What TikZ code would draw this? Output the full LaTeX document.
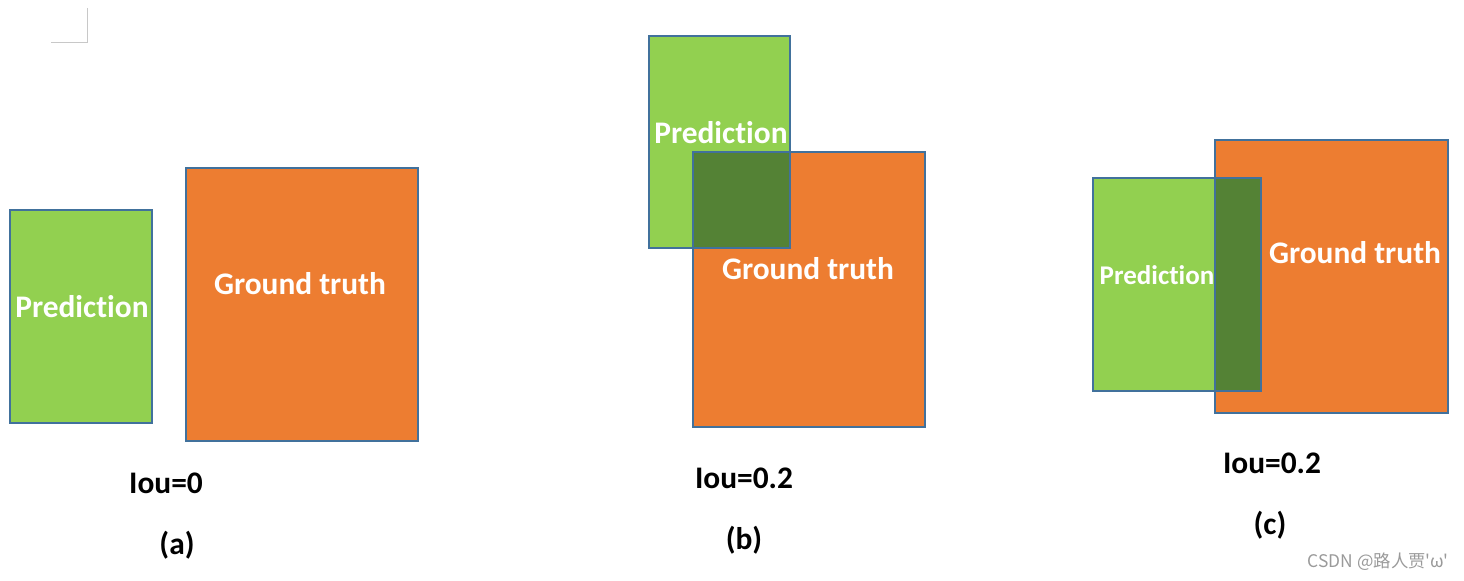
\documentclass[tikz,border=0pt]{standalone}
\usepackage{fontspec}
\setmainfont{Carlito}[Ligatures={TeX,NoCommon}]
\newfontfamily\cjk{Noto Sans CJK SC}
\usetikzlibrary{positioning}
\definecolor{boxblue}{HTML}{41719C}
\definecolor{predgreen}{HTML}{92D050}
\definecolor{truthorange}{HTML}{ED7D31}
\definecolor{overlapgreen}{HTML}{548235}
\definecolor{markgray}{HTML}{C8C8C8}
\definecolor{wmgray}{HTML}{9A9A9A}

\begin{document}
\begin{tikzpicture}[
  x=0.5pt, y=-0.5pt,
  box/.style={draw=boxblue,line width=1pt,inner sep=0pt,outer sep=0pt,anchor=north west},
  pred/.style={box,fill=predgreen}, truth/.style={box,fill=truthorange}, inter/.style={box,fill=overlapgreen},
  inlabel/.style={text=white,inner sep=0pt,font=\fontsize{15.7}{18}\selectfont\bfseries},
  caption/.style={inner sep=0pt,font=\fontsize{15.7}{18}\selectfont\bfseries}
]
\useasboundingbox (0,0) rectangle (1464,581);
\draw[markgray,line width=0.5pt] (87,8) -- (87,43) -- (51,43);
% (a) no overlap
\node[pred,minimum width=71pt,minimum height=106.5pt] (predA) at (10,210) {};
\node[truth,minimum width=116pt,minimum height=136.5pt] (truthA) at (186,168) {};
\node[inlabel] (predAtext) at (82,307) {Prediction};
\node[inlabel] (truthAtext) at (300,284) {Ground truth};
\node[caption] (iouA) at (166,483) {Iou=0};
\node[caption] (capA) at (177,545) {(a)};
% (b) corner overlap
\node[pred,minimum width=70.5pt,minimum height=106pt] (predB) at (649,36) {};
\node[truth,minimum width=116pt,minimum height=137.5pt] (truthB) at (693,152) {};
\node[inter,minimum width=48.5pt,minimum height=48pt] (interB) at (693,152) {};
\node[inlabel] (predBtext) at (721,133) {Prediction};
\node[inlabel] (truthBtext) at (808,269) {Ground truth};
\node[caption] (iouB) at (744,478) {Iou=0.2};
\node[caption] (capB) at (744,540) {(b)};
% (c) side overlap
\node[pred,minimum width=84pt,minimum height=106.5pt] (predC) at (1093,178) {};
\node[truth,minimum width=116.5pt,minimum height=136.5pt] (truthC) at (1215,140) {};
\node[inter,minimum width=23pt,minimum height=106.5pt] (interC) at (1215,178) {};
\node[inlabel,font=\fontsize{13.5}{16}\selectfont\bfseries] (predCtext) at (1157,275) {Prediction};
\node[inlabel] (truthCtext) at (1355,253) {Ground truth};
\node[caption] (iouC) at (1272,463) {Iou=0.2};
\node[caption] (capC) at (1270,525) {(c)};
\node[text=wmgray,inner sep=0pt,font=\cjk\fontsize{8.7}{10}\selectfont] (mark) at (1378,562) {CSDN @路人贾\char39ω\char39};
\end{tikzpicture}
\end{document}
